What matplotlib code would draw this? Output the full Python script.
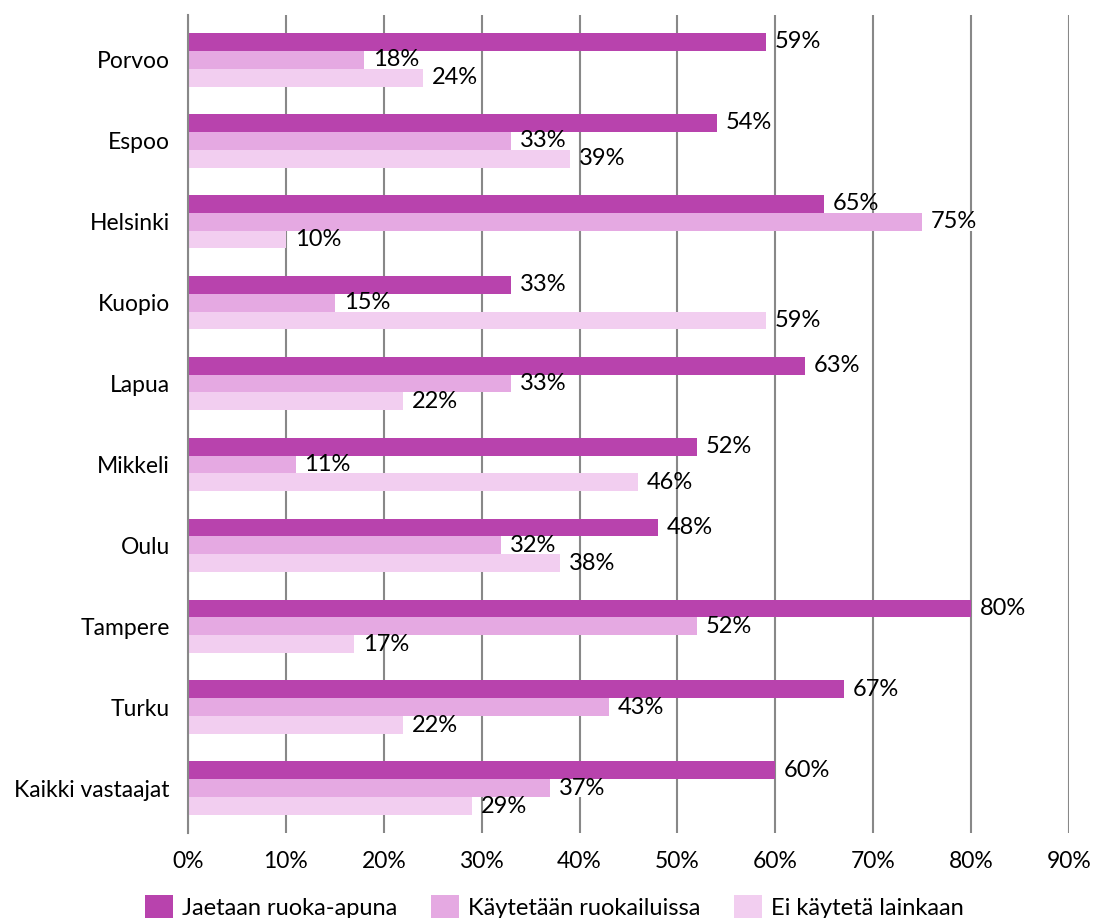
import matplotlib
matplotlib.use("Agg")
import matplotlib.pyplot as plt
import numpy as np
from matplotlib.patches import Patch

categories = ["Porvoo", "Espoo", "Helsinki", "Kuopio", "Lapua", "Mikkeli",
              "Oulu", "Tampere", "Turku", "Kaikki vastaajat"]
series_names = ["Jaetaan ruoka-apuna", "Käytetään ruokailuissa", "Ei käytetä lainkaan"]
jaetaan = [59, 54, 65, 33, 63, 52, 48, 80, 67, 60]
kaytetaan = [18, 33, 75, 15, 33, 11, 32, 52, 43, 37]
ei_kayteta = [24, 39, 10, 59, 22, 46, 38, 17, 22, 29]
xticks = [0, 10, 20, 30, 40, 50, 60, 70, 80, 90]
colors = ["#B843AD", "#E5A9E2", "#F2CEF0"]

plt.rcParams['font.family'] = ['Lato', 'DejaVu Sans']

fig = plt.figure(figsize=(10.93, 9.18), dpi=100)
ax = fig.add_axes([188/1093, 1 - 833/918, (1069-188)/1093, (833-15)/918])

y = np.arange(len(categories))
h = 0.222
series = [jaetaan, kaytetaan, ei_kayteta]
for i, (vals, c, name) in enumerate(zip(series, colors, series_names)):
    pos = y + (i - 1) * h
    ax.barh(pos, vals, height=h, color=c, label=name, zorder=3)
    if i == 1:
        # white label background strip, confined to the bar row
        ax.barh(pos, [5.5] * len(vals), left=vals, height=h, color="white", zorder=2)
    for p, v in zip(pos, vals):
        ax.text(v + 0.9, p, f"{v}%", va="center", ha="left", fontsize=17,
                color="black", zorder=4)

ax.set_xlim(0, 90)
ax.set_ylim(len(categories) - 1 + 0.55, -0.55)
ax.set_yticks(y)
ax.set_yticklabels(categories, fontsize=16.5)
ax.set_xticks(xticks)
ax.set_xticklabels([f"{t}%" for t in xticks], fontsize=16.5)
ax.tick_params(axis="y", length=0, pad=13)
ax.tick_params(axis="x", length=0, pad=13)
ax.grid(axis="x", color="#888888", linewidth=1.5, zorder=0)
ax.set_axisbelow(True)
for s in ["top", "right", "bottom"]:
    ax.spines[s].set_visible(False)
ax.spines["left"].set_color("#888888")
ax.spines["left"].set_linewidth(1.5)
ax.spines["left"].set_zorder(5)

handles = [Patch(facecolor=c, edgecolor="none") for c in colors]
fig.legend(handles, series_names, loc="center left", bbox_to_anchor=(145/1093, 1 - 907/918),
           ncol=3, frameon=False, fontsize=17, handlelength=1.19, handleheight=1.19,
           handletextpad=0.38, columnspacing=1.42, borderpad=0, borderaxespad=0)

fig.savefig("out.png", dpi=100)
